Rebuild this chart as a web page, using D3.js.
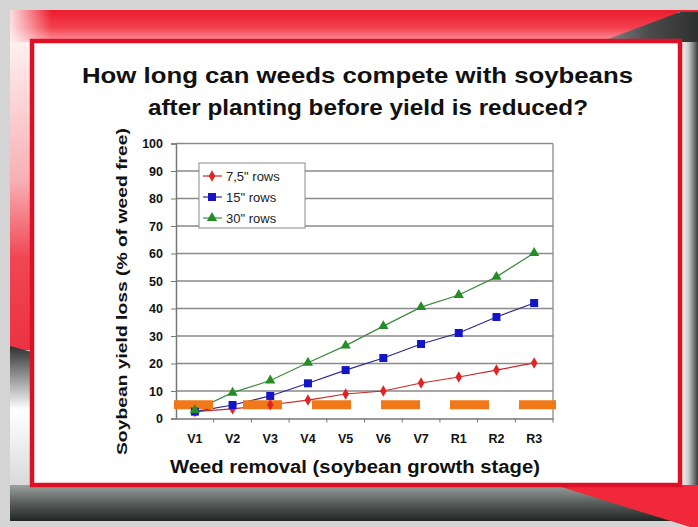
<!DOCTYPE html>
<html>
<head>
<meta charset="utf-8">
<script src="https://cdn.jsdelivr.net/npm/d3@7"></script>
<style>
  body { margin: 0; background: #d4d4d4; }
  svg { display: block; font-family: "Liberation Sans", Arial, sans-serif; }
</style>
</head>
<body>
<script>
// chart values
var stages = ['V1', 'V2', 'V3', 'V4', 'V5', 'V6', 'V7', 'R1', 'R2', 'R3'];
var rows75 = [2.5, 3.5, 5, 6.7, 8.9, 10, 12.9, 15.1, 17.6, 20.2];
var rows15 = [2.5, 4.9, 8.2, 12.8, 17.6, 22, 27.1, 31.1, 36.9, 42];
var rows30 = [3, 9.4, 13.8, 20.3, 26.5, 33.6, 40.5, 44.9, 51.5, 60.2];
var seriesNames = ['7,5" rows', '15" rows', '30" rows'];
var yTicks = [0, 10, 20, 30, 40, 50, 60, 70, 80, 90, 100];
var threshold = 5;

var width = 698, height = 527;
var plotLeft = 176, plotRight = 553, plotTop = 143.5, plotBottom = 418.5;

var svg = d3.select('body').append('svg')
            .attr('width', width)
            .attr('height', height);

var defs = svg.append('defs');

function grad(id, x1, y1, x2, y2, stops) {
    var g = defs.append('linearGradient').attr('id', id)
                .attr('x1', x1).attr('y1', y1).attr('x2', x2).attr('y2', y2);
    stops.forEach(function (s) {
        g.append('stop').attr('offset', s[0]).attr('stop-color', s[1]);
    });
}
grad('topBand', 0, 0, 0, 1, [[0, '#ec1c2c'], [0.55, '#f2404e'], [1, '#ff9aa2']]);
grad('topFade', 0, 0, 1, 0, [[0, 'rgba(255,255,255,0.85)'], [0.06, 'rgba(255,255,255,0)'], [1, 'rgba(255,255,255,0)']]);
grad('leftRed', 0, 0, 0, 1, [[0, '#fff0f0'], [0.45, '#f8b0b4'], [0.7, '#f04654'], [1, '#ec3242']]);
grad('leftGray', 0, 0, 0, 1, [[0, '#2e3030'], [0.45, '#ffffff'], [1, '#d8d8d8']]);
grad('rightSide', 0, 0, 1, 0, [[0, '#ffffff'], [0.5, '#d0d0d0'], [1, '#3a3c3c']]);
grad('bottomBand', 0, 0, 0, 1, [[0, '#9aa29e'], [0.45, '#5e6462'], [1, '#222424']]);
grad('topRight', 0, 0, 1, 0, [[0, '#8a8c8c'], [0.5, '#4a4c4c'], [1, '#2e3030']]);

// slide background
svg.append('rect').attr('x', 0).attr('y', 0).attr('width', width).attr('height', height).attr('fill', '#d4d4d4');
svg.append('rect').attr('x', 10).attr('y', 10).attr('width', 688).attr('height', 32).attr('fill', 'url(#topBand)');
svg.append('rect').attr('x', 10).attr('y', 10).attr('width', 688).attr('height', 32).attr('fill', 'url(#topFade)');
svg.append('rect').attr('x', 10).attr('y', 42).attr('width', 22).attr('height', 308).attr('fill', 'url(#leftRed)');
svg.append('polygon').attr('points', '10,346 32,352 32,487 10,487').attr('fill', 'url(#leftGray)');
svg.append('rect').attr('x', 678).attr('y', 12).attr('width', 20).attr('height', 478).attr('fill', 'url(#rightSide)');
svg.append('polygon').attr('points', '600,42 680,12 698,12 698,42').attr('fill', 'url(#topRight)');
svg.append('rect').attr('x', 10).attr('y', 485).attr('width', 688).attr('height', 36).attr('fill', 'url(#bottomBand)');
svg.append('polygon').attr('points', '555,485 698,485 698,527 690,527').attr('fill', '#f0283a');

// white panel with red border
svg.append('rect')
   .attr('x', 32).attr('y', 41)
   .attr('width', 648).attr('height', 444)
   .attr('fill', '#ffffff')
   .attr('stroke', '#de1028')
   .attr('stroke-width', 4.5);

// title
var title = svg.append('text')
               .attr('font-size', 22)
               .attr('font-weight', 'bold')
               .attr('fill', '#111');
title.append('tspan').attr('x', 82).attr('y', 83)
     .attr('textLength', 551).attr('lengthAdjust', 'spacingAndGlyphs')
     .text('How long can weeds compete with soybeans');
title.append('tspan').attr('x', 148).attr('y', 115)
     .attr('textLength', 440).attr('lengthAdjust', 'spacingAndGlyphs')
     .text('after planting before yield is reduced?');

// scales
var x = d3.scaleBand().domain(stages).range([plotLeft, plotRight]);
var y = d3.scaleLinear().domain([0, 100]).range([plotBottom, plotTop]);

// grid
svg.append('g').selectAll('line')
   .data(yTicks.slice(1))
   .enter()
   .append('line')
   .attr('x1', plotLeft).attr('x2', plotRight)
   .attr('y1', function (d) { return y(d); })
   .attr('y2', function (d) { return y(d); })
   .attr('stroke', '#8a8a8a')
   .attr('stroke-width', 1.3);

svg.append('line')
   .attr('x1', plotRight).attr('x2', plotRight)
   .attr('y1', plotTop).attr('y2', plotBottom)
   .attr('stroke', '#8a8a8a').attr('stroke-width', 1.3);

// axes
var yAxis = svg.append('g')
               .attr('transform', 'translate(' + plotLeft + ',0)')
               .call(d3.axisLeft(y).tickValues(yTicks).tickSize(5).tickPadding(8));
var xAxis = svg.append('g')
               .attr('transform', 'translate(0,' + plotBottom + ')')
               .call(d3.axisBottom(x).tickSize(0).tickPadding(16));

// x ticks sit between categories
svg.append('g').selectAll('line')
   .data(stages)
   .enter()
   .append('line')
   .attr('x1', function (d) { return x(d) + x.step(); })
   .attr('x2', function (d) { return x(d) + x.step(); })
   .attr('y1', plotBottom).attr('y2', plotBottom + 4)
   .attr('stroke', '#777');

[yAxis, xAxis].forEach(function (a) {
    a.select('.domain').attr('stroke', '#777').attr('stroke-width', 1.5);
    a.selectAll('.tick line').attr('stroke', '#777');
    a.selectAll('text')
     .attr('font-size', 12.5)
     .attr('font-weight', 'bold')
     .attr('fill', '#111')
     .attr('font-family', '"Liberation Sans", Arial, sans-serif');
});

// axis titles
svg.append('text')
   .attr('transform', 'translate(127,455) rotate(-90)')
   .attr('font-size', 15.5)
   .attr('font-weight', 'bold')
   .attr('fill', '#111')
   .attr('textLength', 327).attr('lengthAdjust', 'spacingAndGlyphs')
   .text('Soybean yield loss (% of weed free)');

svg.append('text')
   .attr('x', 170).attr('y', 473)
   .attr('font-size', 18)
   .attr('font-weight', 'bold')
   .attr('fill', '#111')
   .attr('textLength', 370).attr('lengthAdjust', 'spacingAndGlyphs')
   .text('Weed removal (soybean growth stage)');

// series
var series = [
    { name: seriesNames[0], values: rows75, line: '#c82828', fill: '#e02424', shape: d3.symbolDiamond, size: 38 },
    { name: seriesNames[1], values: rows15, line: '#2a2a8a', fill: '#1414c8', shape: d3.symbolSquare, size: 64 },
    { name: seriesNames[2], values: rows30, line: '#3c8a3c', fill: '#268c26', shape: d3.symbolTriangle, size: 46 }
];

var line = d3.line()
             .x(function (d, i) { return x(stages[i]) + x.bandwidth() / 2; })
             .y(function (d) { return y(d); });

series.forEach(function (s) {
    svg.append('path')
       .attr('d', line(s.values))
       .attr('fill', 'none')
       .attr('stroke', s.line)
       .attr('stroke-width', 1.2);
});

// orange threshold dashes
svg.append('line')
   .attr('x1', plotLeft - 2).attr('x2', plotRight + 3)
   .attr('y1', y(threshold)).attr('y2', y(threshold))
   .attr('stroke', '#f07818')
   .attr('stroke-width', 9)
   .attr('stroke-dasharray', '39 30');

series.forEach(function (s) {
    svg.append('g').selectAll('path')
       .data(s.values)
       .enter()
       .append('path')
       .attr('d', d3.symbol().type(s.shape).size(s.size))
       .attr('transform', function (d, i) {
           return 'translate(' + (x(stages[i]) + x.bandwidth() / 2) + ',' + y(d) + ')';
       })
       .attr('fill', s.fill);
});

// legend
var legend = svg.append('g').attr('transform', 'translate(199,163)');
legend.append('rect')
      .attr('width', 106).attr('height', 65)
      .attr('fill', '#fff')
      .attr('stroke', '#8a8a8a');

var items = legend.selectAll('g.item')
                  .data(series)
                  .enter()
                  .append('g')
                  .attr('transform', function (d, i) { return 'translate(0,' + (13 + i * 21) + ')'; });
items.append('line')
     .attr('x1', 4).attr('x2', 23)
     .attr('stroke', function (d) { return d.line; })
     .attr('stroke-width', 1.2);
items.append('path')
     .attr('d', function (d) { return d3.symbol().type(d.shape).size(d.size)(); })
     .attr('transform', 'translate(13,0)')
     .attr('fill', function (d) { return d.fill; });
items.append('text')
     .attr('x', 27).attr('y', 4.5)
     .attr('font-size', 13)
     .attr('fill', '#222')
     .text(function (d) { return d.name; });
</script>
</body>
</html>
